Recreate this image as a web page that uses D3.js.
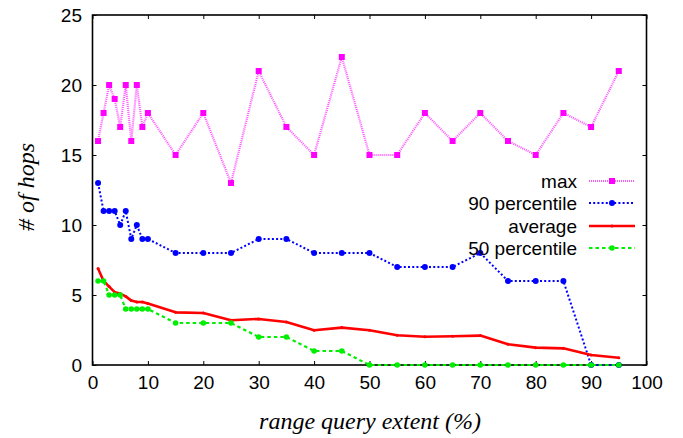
<!DOCTYPE html>
<html>
<head>
<meta charset="utf-8">
<script src="https://cdn.jsdelivr.net/npm/d3@7"></script>
<style>
html,body{margin:0;padding:0;background:#fff;}
svg{display:block;}
</style>
</head>
<body>
<svg id="chart" width="683" height="438"></svg>
<script>
const xValues = [1,2,3,4,5,6,7,8,9,10,15,20,25,30,35,40,45,50,55,60,65,70,75,80,85,90,95];
const maxHops = [16,18,20,19,17,20,16,20,17,18,15,18,13,21,17,15,22,15,15,18,16,18,16,15,18,17,21];
const p90Hops = [13,11,11,11,10,11,9,10,9,9,8,8,8,9,9,8,8,8,7,7,7,8,6,6,6,0,0];
const avgHops = [6.9,6.0,5.6,5.2,5.1,4.9,4.6,4.5,4.5,4.4,3.76,3.71,3.2,3.29,3.07,2.48,2.67,2.48,2.12,2.02,2.05,2.1,1.48,1.24,1.19,0.71,0.52];
const p50Hops = [6,6,5,5,5,4,4,4,4,4,3,3,3,2,2,1,1,0,0,0,0,0,0,0,0,0,0];
const xTicks = [0,10,20,30,40,50,60,70,80,90,100];
const yTicks = [0,5,10,15,20,25];

const series = [
  {name:"max", values:maxHops, color:"#ff00ff", lineColor:"#ff55ff", width:2.2, dash:"1,1", marker:"square", size:6},
  {name:"90 percentile", values:p90Hops, color:"#0000ff", lineColor:"#0000ff", width:2, dash:"2,2.2", marker:"circle", size:3},
  {name:"average", values:avgHops, color:"#ff0000", lineColor:"#ff0000", width:2.6, dash:null, marker:"tick", size:1.5},
  {name:"50 percentile", values:p50Hops, color:"#00ee00", lineColor:"#00ee00", width:2.2, dash:"3.5,3", marker:"circle", size:2.8}
];

const svg = d3.select("#chart");
const L = 92.5, R = 646.5, T = 15, B = 365;
const x = d3.scaleLinear().domain([0,100]).range([L,R]);
const y = d3.scaleLinear().domain([0,25]).range([B,T]);
const sansFont = "'Liberation Sans', Arial, sans-serif";
const serifFont = "'Liberation Serif','Times New Roman',serif";
const fs = 19;

// axes with inward ticks
const tickLen = 4;
const axB = svg.append("g").attr("transform",`translate(0,${B})`)
  .call(d3.axisBottom(x).tickValues(xTicks).tickSizeInner(-tickLen).tickSizeOuter(0).tickPadding(11));
const axT = svg.append("g").attr("transform",`translate(0,${T})`)
  .call(d3.axisTop(x).tickValues(xTicks).tickSizeInner(-tickLen).tickSizeOuter(0).tickFormat(""));
const axL = svg.append("g").attr("transform",`translate(${L},0)`)
  .call(d3.axisLeft(y).tickValues(yTicks).tickSizeInner(-tickLen).tickSizeOuter(0).tickPadding(10.5));
const axR = svg.append("g").attr("transform",`translate(${R},0)`)
  .call(d3.axisRight(y).tickValues(yTicks).tickSizeInner(-tickLen).tickSizeOuter(0).tickFormat(""));
[axB,axT,axL,axR].forEach(a=>{
  a.select(".domain").remove();
  a.selectAll("line").attr("stroke","#000").attr("stroke-width",1);
  a.selectAll("text").attr("font-family",sansFont).attr("font-size",fs).attr("fill","#000");
});
axL.selectAll("text").attr("dy","0.35em");

// frame
svg.append("rect").attr("x",L).attr("y",T).attr("width",R-L).attr("height",B-T)
  .attr("fill","none").attr("stroke","#000").attr("stroke-width",1.6);

// axis titles
svg.append("text").attr("x",370).attr("y",429).attr("text-anchor","middle")
  .attr("font-family",serifFont).attr("font-style","italic").attr("font-size",24)
  .text("range query extent (%)");
svg.append("text").attr("transform",`translate(34,187) rotate(-90)`).attr("text-anchor","middle")
  .attr("font-family",serifFont).attr("font-style","italic").attr("font-size",24)
  .text("# of hops");

const line = d3.line().x(d=>x(d[0])).y(d=>y(d[1]));

function drawMarker(g, s, px, py){
  if(s.marker==="square"){
    g.append("rect").attr("x",px-s.size/2).attr("y",py-s.size/2).attr("width",s.size).attr("height",s.size).attr("fill",s.color);
  } else {
    g.append("circle").attr("cx",px).attr("cy",py).attr("r",s.size).attr("fill",s.color);
  }
}

series.forEach(s=>{
  const pts = xValues.map((v,i)=>[v,s.values[i]]);
  const g = svg.append("g");
  const p = g.append("path").datum(pts).attr("d",line).attr("fill","none")
    .attr("stroke",s.lineColor).attr("stroke-width",s.width).attr("stroke-linejoin","round");
  if(s.dash) p.attr("stroke-dasharray",s.dash);
  pts.forEach(d=>drawMarker(g,s,x(d[0]),y(d[1])));
});

// legend
const legendY = [181, 203, 226, 248];
const lg = svg.append("g");
series.forEach((s,i)=>{
  const yy = legendY[i];
  lg.append("text").attr("x",577).attr("y",yy).attr("dy","0.35em").attr("text-anchor","end")
    .attr("font-family",sansFont).attr("font-size",fs).attr("fill","#000").text(s.name);
  const ln = lg.append("line").attr("x1",589).attr("x2",635).attr("y1",yy).attr("y2",yy)
    .attr("stroke",s.lineColor).attr("stroke-width",s.width);
  if(s.dash) ln.attr("stroke-dasharray",s.dash);
  drawMarker(lg,s,612,yy);
});
</script>
</body>
</html>
